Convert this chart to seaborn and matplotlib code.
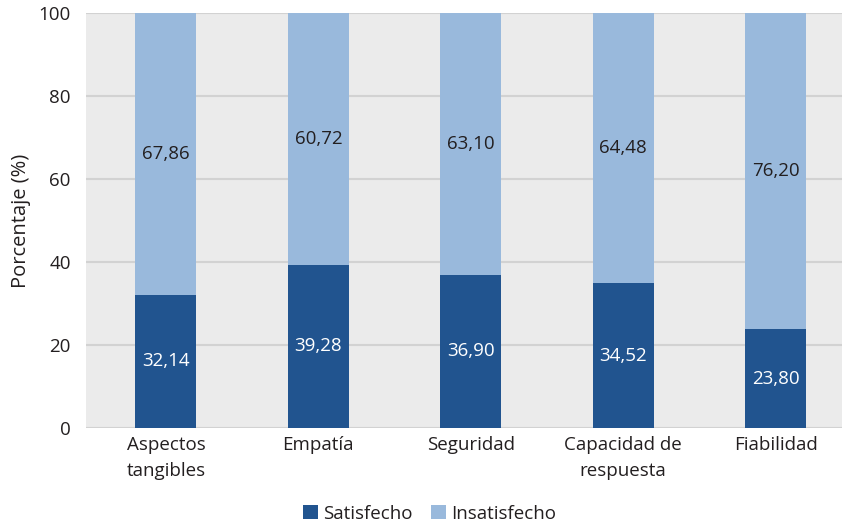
import matplotlib
matplotlib.use("Agg")
import matplotlib.pyplot as plt
import seaborn as sns
import pandas as pd
import numpy as np

categories = ["Aspectos\ntangibles", "Empatía", "Seguridad", "Capacidad de\nrespuesta", "Fiabilidad"]
satisfecho = [32.14, 39.28, 36.90, 34.52, 23.80]
insatisfecho = [67.86, 60.72, 63.10, 64.48, 76.20]
yticks = [0, 20, 40, 60, 80, 100]

dark = "#21548F"
light = "#99B9DC"
fs = 13.5

sns.set_theme(style="whitegrid")
plt.rcParams['font.family'] = ['Open Sans', 'DejaVu Sans']

fig = plt.figure(figsize=(8.42, 5.25), dpi=100)
ax = fig.add_axes([0.1021, 0.1848, 0.8979, 0.7904])
ax.set_facecolor("#EBEBEB")

# 100% stacked: normalise each category to its total
df = pd.DataFrame({"cat": categories, "Satisfecho": satisfecho, "Insatisfecho": insatisfecho})
tot = df["Satisfecho"] + df["Insatisfecho"]
df["s_pct"] = df["Satisfecho"] / tot * 100
df["i_pct"] = df["Insatisfecho"] / tot * 100
df["top"] = df["s_pct"] + df["i_pct"]

sns.barplot(data=df, x="cat", y="top", color=light, width=0.40, ax=ax, saturation=1,
            label="Insatisfecho", linewidth=0, edgecolor="none")
sns.barplot(data=df, x="cat", y="s_pct", color=dark, width=0.40, ax=ax, saturation=1,
            label="Satisfecho", linewidth=0, edgecolor="none")

for i in range(len(categories)):
    sp = df["s_pct"][i]
    ip = df["i_pct"][i]
    ax.text(i, sp / 2, f"{satisfecho[i]:.2f}".replace(".", ","), ha="center", va="center",
            color="white", fontsize=fs)
    ax.text(i, sp + ip / 2, f"{insatisfecho[i]:.2f}".replace(".", ","),
            ha="center", va="center", color="#231F20", fontsize=fs)

ax.set_ylim(0, 100)
ax.set_xlim(-0.525, 4.436)
ax.set_yticks(yticks)
ax.set_yticklabels([str(t) for t in yticks])
ax.grid(axis="y", color="#D2D2D2", linewidth=1.5)
ax.grid(axis="x", visible=False)
ax.set_axisbelow(True)
for s in ax.spines.values():
    s.set_visible(False)
ax.tick_params(axis="both", length=0, labelsize=fs, labelcolor="#231F20")
ax.tick_params(axis="y", pad=11)
ax.tick_params(axis="x", pad=6)
for lbl in ax.get_xticklabels():
    lbl.set_linespacing(1.55)
ax.set_xlabel("")
ax.set_ylabel("Porcentaje (%)", fontsize=14.5, color="#231F20", labelpad=5)

handles, labels = ax.get_legend_handles_labels()
order = [labels.index("Satisfecho"), labels.index("Insatisfecho")]
fig.legend([handles[k] for k in order], [labels[k] for k in order], loc="lower center",
           bbox_to_anchor=(0.51, -0.028), ncol=2, frameon=False, fontsize=fs,
           handlelength=0.8, handleheight=0.8, handletextpad=0.25, columnspacing=1.0,
           labelcolor="#231F20")
if ax.get_legend():
    ax.get_legend().remove()

fig.savefig("out.png", dpi=100)
